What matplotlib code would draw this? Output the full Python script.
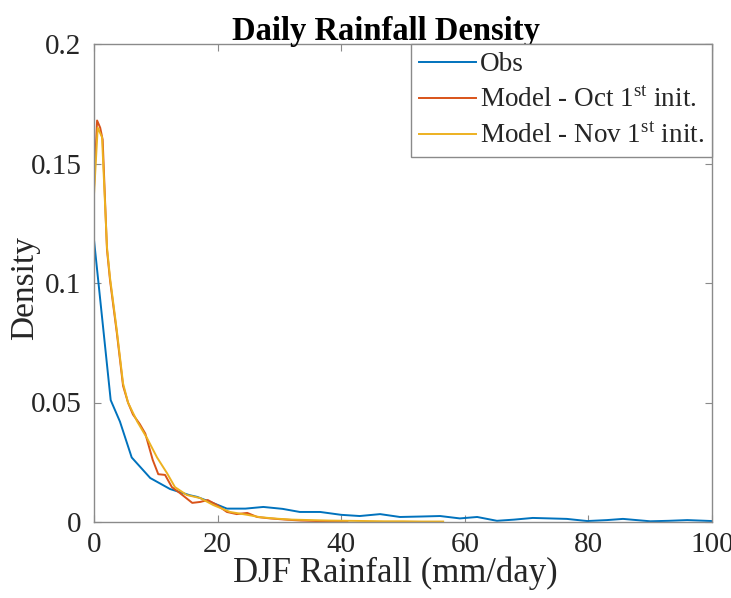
"""
Daily Rainfall Density (DJF): observations vs model runs
from two initialisation dates. MATLAB-like styling.
"""

import matplotlib
matplotlib.use("Agg")
import matplotlib.pyplot as plt


# --- Data ---
obs_x = [0, 2.7, 4.2, 6.1, 9.1, 12.3, 15.5, 16.7, 19.3, 21.5, 24.5, 27.4, 30.5,
         33.3, 36.6, 40, 43, 46.3, 49.5, 53, 56, 59.2, 62, 65.2, 68, 71, 76.5,
         79.8, 83, 85.6, 90, 93, 96, 100]
obs_y = [0.118, 0.051, 0.042, 0.027, 0.0184, 0.0138, 0.0112, 0.0105, 0.0079,
         0.0056, 0.0056, 0.0063, 0.0055, 0.0042, 0.0042, 0.0030, 0.0025, 0.0033,
         0.0021, 0.0023, 0.0025, 0.0015, 0.0021, 0.0005, 0.0010, 0.0017, 0.0013,
         0.0004, 0.0008, 0.0013, 0.0003, 0.0005, 0.0008, 0.0004]

oct_x = [0, 0.5, 1.0, 1.4, 2.1, 2.6, 3.7, 4.7, 5.5, 6.3, 7.4, 8.3, 9.5, 10.4,
         11.5, 12.6, 13.9, 15.9, 17.2, 18.4, 19.9, 21.5, 23.1, 24.8, 26.4, 28.5,
         31, 33.5, 36, 38.5, 41]
oct_y = [0.140, 0.168, 0.165, 0.160, 0.114, 0.101, 0.079, 0.057, 0.050, 0.045,
         0.041, 0.037, 0.026, 0.020, 0.0197, 0.0146, 0.0121, 0.0080, 0.0084,
         0.0092, 0.0071, 0.0042, 0.0033, 0.0038, 0.0021, 0.0015, 0.0010, 0.0006,
         0.0004, 0.0003, 0.0002]

nov_x = [0, 0.6, 1.3, 2.1, 2.6, 3.7, 4.7, 5.5, 7.0, 8.6, 10.2, 11.8, 13.1, 15.0,
         17.2, 19.3, 22, 24.8, 26.9, 29.5, 32, 35, 38, 41, 44, 47, 50, 53, 56.5]
nov_y = [0.137, 0.165, 0.161, 0.115, 0.102, 0.080, 0.058, 0.050, 0.042, 0.035,
         0.027, 0.0205, 0.0146, 0.0113, 0.0100, 0.0071, 0.0042, 0.0030, 0.0020,
         0.0014, 0.0010, 0.0008, 0.0006, 0.0005, 0.0004, 0.0003, 0.0003, 0.0002,
         0.0002]

x_ticks = [0, 20, 40, 60, 80, 100]
y_ticks = [0, 0.05, 0.1, 0.15, 0.2]
y_tick_labels = ["0", "0.05", "0.1", "0.15", "0.2"]

# MATLAB default line colours
BLUE = "#0072BD"
ORANGE = "#D95319"
YELLOW = "#EDB120"
AXIS_GREY = "#8a8a8a"
TEXT_DARK = "#262626"

plt.rcParams["font.family"] = ["Liberation Serif", "DejaVu Serif"]
plt.rcParams["mathtext.fontset"] = "custom"
plt.rcParams["mathtext.rm"] = "Liberation Serif"

fig = plt.figure(figsize=(7.31, 5.98), dpi=100)
ax = fig.add_axes([94 / 731, 76 / 598, 618 / 731, 478 / 598])

ax.plot(obs_x, obs_y, color=BLUE, linewidth=1.4, label="Obs")
ax.plot(oct_x, oct_y, color=ORANGE, linewidth=1.4,
        label=r"Model - Oct 1$^{\rm st}$ init.")
ax.plot(nov_x, nov_y, color=YELLOW, linewidth=1.4,
        label=r"Model - Nov 1$^{\rm st}$ init.")

ax.set_xlim(0, 100)
ax.set_ylim(0, 0.2)
ax.set_xticks(x_ticks)
ax.set_xticklabels([str(v) for v in x_ticks])
ax.set_yticks(y_ticks)
ax.set_yticklabels(y_tick_labels)

for side in ax.spines.values():
    side.set_color(AXIS_GREY)
    side.set_linewidth(1.0)

ax.tick_params(direction="in", length=5, width=0.8, color=AXIS_GREY,
               top=True, right=True, labelsize=21, labelcolor=TEXT_DARK)
ax.tick_params(axis="x", pad=7)
ax.tick_params(axis="y", pad=9)

ax.set_xlabel("DJF Rainfall (mm/day)", fontsize=25, color=TEXT_DARK)
ax.xaxis.set_label_coords(0.487, -0.072)
ax.set_ylabel("Density", fontsize=24, color=TEXT_DARK)
ax.yaxis.set_label_coords(-0.088, 0.49)
ax.set_title("Daily Rainfall Density", fontsize=23.5, fontweight="bold",
             color="black", x=0.472, pad=3)

leg = ax.legend(loc="upper right", fontsize=19.5, borderaxespad=0,
                handlelength=2.1, handletextpad=0.15, labelspacing=0.38,
                fancybox=False, framealpha=1, borderpad=0.3)
leg.get_frame().set_edgecolor(AXIS_GREY)
leg.get_frame().set_linewidth(1.0)
for t in leg.get_texts():
    t.set_color(TEXT_DARK)

fig.savefig("out.png", dpi=100)
